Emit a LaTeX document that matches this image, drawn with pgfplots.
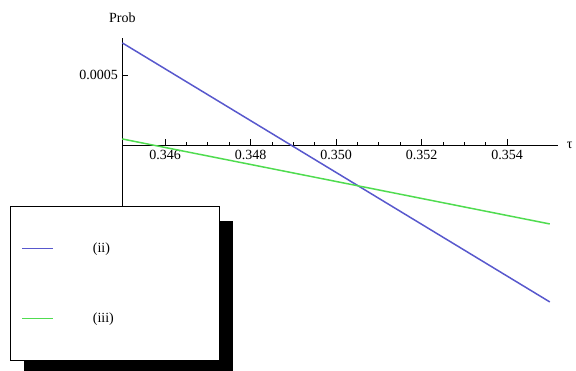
\documentclass[border=0pt]{standalone}
\usepackage{fontspec}
\setmainfont{Liberation Serif}
\usepackage{pgfplots}
\pgfplotsset{compat=1.18}
\usetikzlibrary{shadows}
\makeatletter
\tikzset{no preactions/.code={\let\tikz@preactions\pgfutil@empty}}
\makeatother
\definecolor{cblue}{RGB}{88,88,205}
\definecolor{cgreen}{RGB}{80,220,80}
\begin{document}
\begin{tikzpicture}
\begin{axis}[
  scale only axis,
  width=436.05pt, height=268pt,
  xmin=0.345, xmax=0.3552,
  ymin=-0.00115, ymax=0.000764,
  axis x line=middle, axis y line=left,
  axis line style={-, black, line width=0.8pt},
  clip=false,
  tick align=inside,
  major tick length=6pt, minor tick length=3pt,
  tick style={black, line width=0.8pt},
  scaled y ticks=false, scaled x ticks=false,
  /pgf/number format/assume math mode=true,
  xtick={0.346,0.348,0.350,0.352,0.354},
  xticklabels={0.346,0.348,0.350,0.352,0.354},
  minor x tick num=3,
  ytick={-0.001,-0.0005,0.0005},
  yticklabels={-0.001,-0.0005,0.0005},
  minor y tick num=4,
  ticklabel style={font=\fontsize{14}{16}\selectfont},
  xticklabel style={yshift=-2pt},
  yticklabel style={xshift=-1pt},
  xlabel={τ}, ylabel={Prob},
  every axis x label/.style={at={(axis description cs:1,0.6008)}, anchor=west, xshift=5pt, font=\fontsize{14}{16}\selectfont},
  every axis y label/.style={at={(axis description cs:0,1)}, anchor=center, yshift=20pt, font=\fontsize{14}{16}\selectfont},
  legend image code/.code={\draw[no preactions,#1] (0pt,0pt) -- (31pt,0pt);},
  legend cell align=left,
  legend style={at={(axis description cs:-0.2575,0.3731)}, anchor=north west,
    fill=white, draw=black, line width=0.8pt,
    general shadow={fill=black, shadow xshift=14pt, shadow yshift=-15pt},
    inner xsep=11pt, inner ysep=7pt, column sep=39pt, row sep=0pt,
    nodes={minimum height=70pt, inner sep=0pt},
    font=\fontsize{14}{16}\selectfont},
]
\coordinate (bl) at (rel axis cs:0,0);
\addplot[cblue, line width=1.5pt] coordinates {(0.345,0.000729) (0.355,-0.001121)};
\addlegendentry{\makebox[115pt][l]{(ii)}}
\addplot[cgreen, line width=1.5pt] coordinates {(0.345,0.0000429) (0.355,-0.000564)};
\addlegendentry{\makebox[115pt][l]{(iii)}}
\end{axis}
\pgfresetboundingbox
\path[use as bounding box] ([shift={(-122.3pt,-64pt)}]bl) rectangle ([shift={(453.7pt,306pt)}]bl);
\end{tikzpicture}
\end{document}
